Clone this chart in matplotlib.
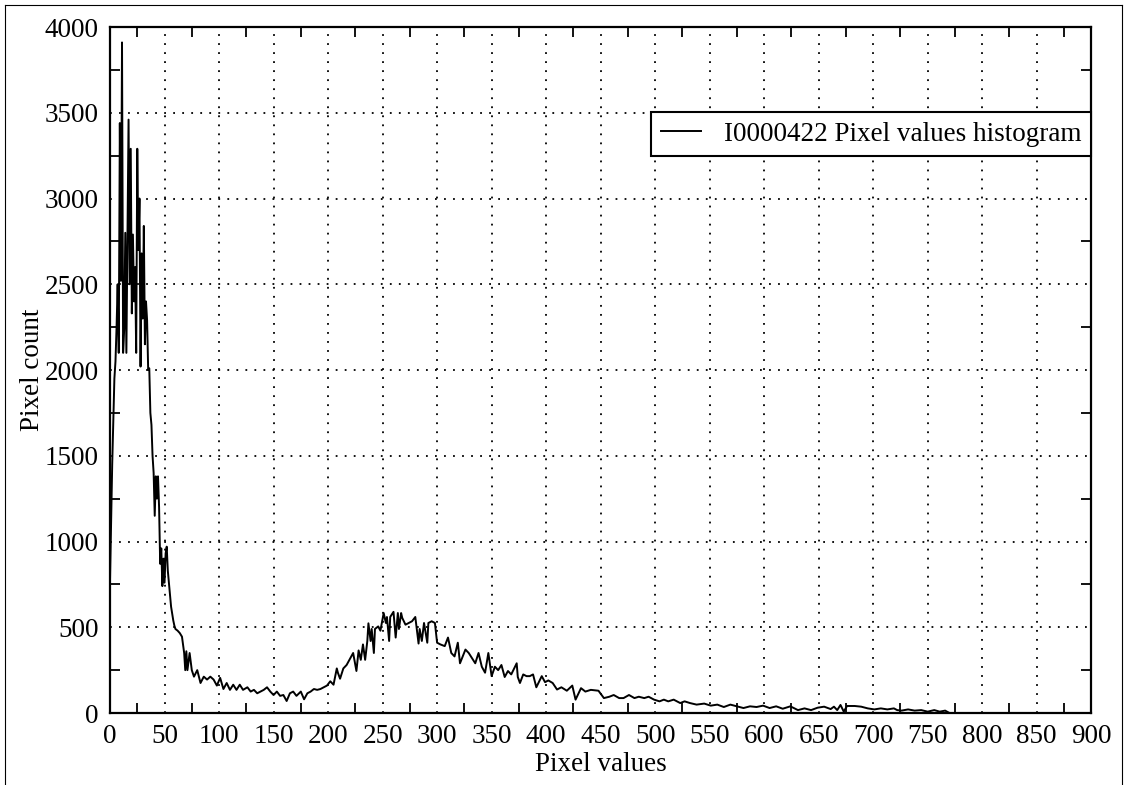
import matplotlib
matplotlib.use("Agg")
import matplotlib.pyplot as plt
from matplotlib.ticker import MultipleLocator
from matplotlib.lines import Line2D

plt.rcParams["font.family"] = ["Liberation Serif", "DejaVu Serif"]

# Histogram
pixel_values = [
    0, 1, 2, 3, 4, 5, 6, 7, 8, 9, 10, 11, 12, 13, 14, 15, 16, 17, 18, 19,
    20, 21, 22, 23, 24, 25, 26, 27, 28, 29, 30, 31, 32, 33, 34, 35, 36, 37, 38, 39,
    40, 41, 42, 43, 44, 45, 46, 47, 48, 49, 50, 51, 52, 53, 54, 55, 56, 57, 58, 59,
    60, 62, 64, 66, 68, 69, 70, 71, 73, 75, 77, 80, 83, 86, 89, 92, 95, 98,
    101, 104, 107, 110, 113, 116, 119, 122, 126, 129, 132, 135, 138, 141, 144, 147,
    150, 153, 156, 159, 162, 165, 168, 171, 175, 178, 181, 184, 187, 190, 193, 196,
    199, 202, 205, 208, 209, 211, 214, 217, 220, 223, 226, 228, 230, 232, 234, 236,
    237, 239, 240, 242, 243, 246, 248, 251, 253, 254, 256, 257, 260, 262, 264, 265,
    267, 268, 271, 274, 277, 280, 283, 284, 286, 288, 291, 292, 295, 298, 300, 303,
    307, 310, 313, 316, 319, 321, 326, 329, 332, 335, 338, 341, 344, 347, 350, 353,
    356, 359, 362, 365, 368, 373, 374, 376, 379, 382, 385, 388, 391, 396, 399, 402,
    406, 410, 414, 419, 424, 427, 432, 436, 441, 448, 453, 458, 462, 467, 471, 476,
    481, 485, 490, 494, 499, 504, 508, 512, 517, 523, 527, 532, 538, 545, 551, 557,
    563, 569, 575, 581, 587, 593, 599, 605, 611, 617, 624, 631, 637, 643, 649, 655,
    661, 664, 667, 670, 673, 676, 683, 689, 695, 701, 707, 713, 719, 722, 726, 732,
    738, 744, 750, 756, 761, 766, 770,
]
pixel_counts = [
    780, 1100, 1450, 1700, 1950, 2050, 2250, 2500, 2100, 3440, 2520, 3910, 2100, 2240, 2800, 2100, 2750, 3460, 2500, 3290,
    2330, 2790, 2400, 2600, 2100, 3290, 2700, 3000, 2020, 2680, 2300, 2840, 2150, 2400, 2290, 2000, 2010, 1750, 1680, 1500,
    1400, 1150, 1380, 1250, 1380, 1200, 870, 960, 740, 900, 760, 930, 970, 830, 760, 690, 620, 580, 540, 510,
    490, 480, 466, 445, 350, 250, 360, 250, 350, 250, 212, 250, 175, 212, 195, 212, 195, 160,
    205, 140, 175, 135, 165, 135, 165, 135, 150, 125, 135, 115, 125, 135, 150, 125,
    105, 125, 100, 105, 70, 115, 125, 100, 125, 80, 115, 125, 140, 135, 140, 150,
    160, 185, 165, 260, 235, 200, 260, 280, 315, 350, 245, 365, 310, 400, 310, 420,
    523, 420, 490, 350, 490, 505, 480, 583, 525, 560, 420, 560, 590, 440, 583, 490,
    583, 555, 515, 525, 535, 560, 405, 490, 420, 525, 410, 525, 535, 525, 410, 400,
    390, 440, 350, 330, 410, 290, 370, 350, 320, 290, 350, 270, 235, 350, 215, 270,
    250, 280, 210, 245, 225, 290, 210, 175, 225, 215, 215, 225, 150, 215, 180, 190,
    175, 137, 150, 130, 160, 78, 145, 125, 135, 130, 87, 95, 105, 87, 87, 105,
    87, 95, 87, 95, 78, 68, 78, 68, 78, 58, 68, 58, 49, 55, 43, 49,
    35, 49, 39, 29, 39, 35, 43, 29, 39, 25, 39, 17, 27, 17, 31, 37,
    23, 37, 17, 47, 8, 41, 41, 37, 27, 21, 27, 21, 27, 17, 14, 21,
    14, 17, 8, 17, 8, 14, 0,
]

fig = plt.figure(figsize=(11.25, 7.85), dpi=100)
ax = fig.add_axes([0.0978, 0.0917, 0.8722, 0.8739])

ax.plot(pixel_values, pixel_counts, color="black", lw=1.4,
        label="I0000422 Pixel values histogram")

ax.set_xlim(0, 900)
ax.set_ylim(0, 4000)
ax.xaxis.set_major_locator(MultipleLocator(50))
ax.xaxis.set_minor_locator(MultipleLocator(25))
ax.yaxis.set_major_locator(MultipleLocator(500))
ax.yaxis.set_minor_locator(MultipleLocator(250))
ax.tick_params(which="both", direction="in", top=True, right=True, labelsize=19.5)
ax.tick_params(which="major", length=0, pad=8)
ax.tick_params(which="minor", length=7, width=1.3)
ax.grid(True, which="major", color="black", linestyle=(0, (1, 4)), lw=1.3)
for s in ax.spines.values():
    s.set_linewidth(1.6)

ax.set_xlabel("Pixel values", fontsize=19.5, labelpad=2)
ax.set_ylabel("Pixel count", fontsize=19.5, labelpad=0)

leg = ax.legend(loc="upper right", bbox_to_anchor=(1.0, 0.876), borderaxespad=0,
                fontsize=19.5, handlelength=1.5, handletextpad=0.85, fancybox=False,
                framealpha=1, edgecolor="black", borderpad=0.35)
leg.get_frame().set_linewidth(1.5)

# thin frame round the figure
for xs, ys in [([0.0045, 0.0045], [0.0, 0.994]), ([0.0045, 0.997], [0.994, 0.994]),
               ([0.997, 0.997], [0.0, 0.994])]:
    fig.add_artist(Line2D(xs, ys, transform=fig.transFigure, color="black", lw=0.8))

fig.savefig("out.png", dpi=100)
